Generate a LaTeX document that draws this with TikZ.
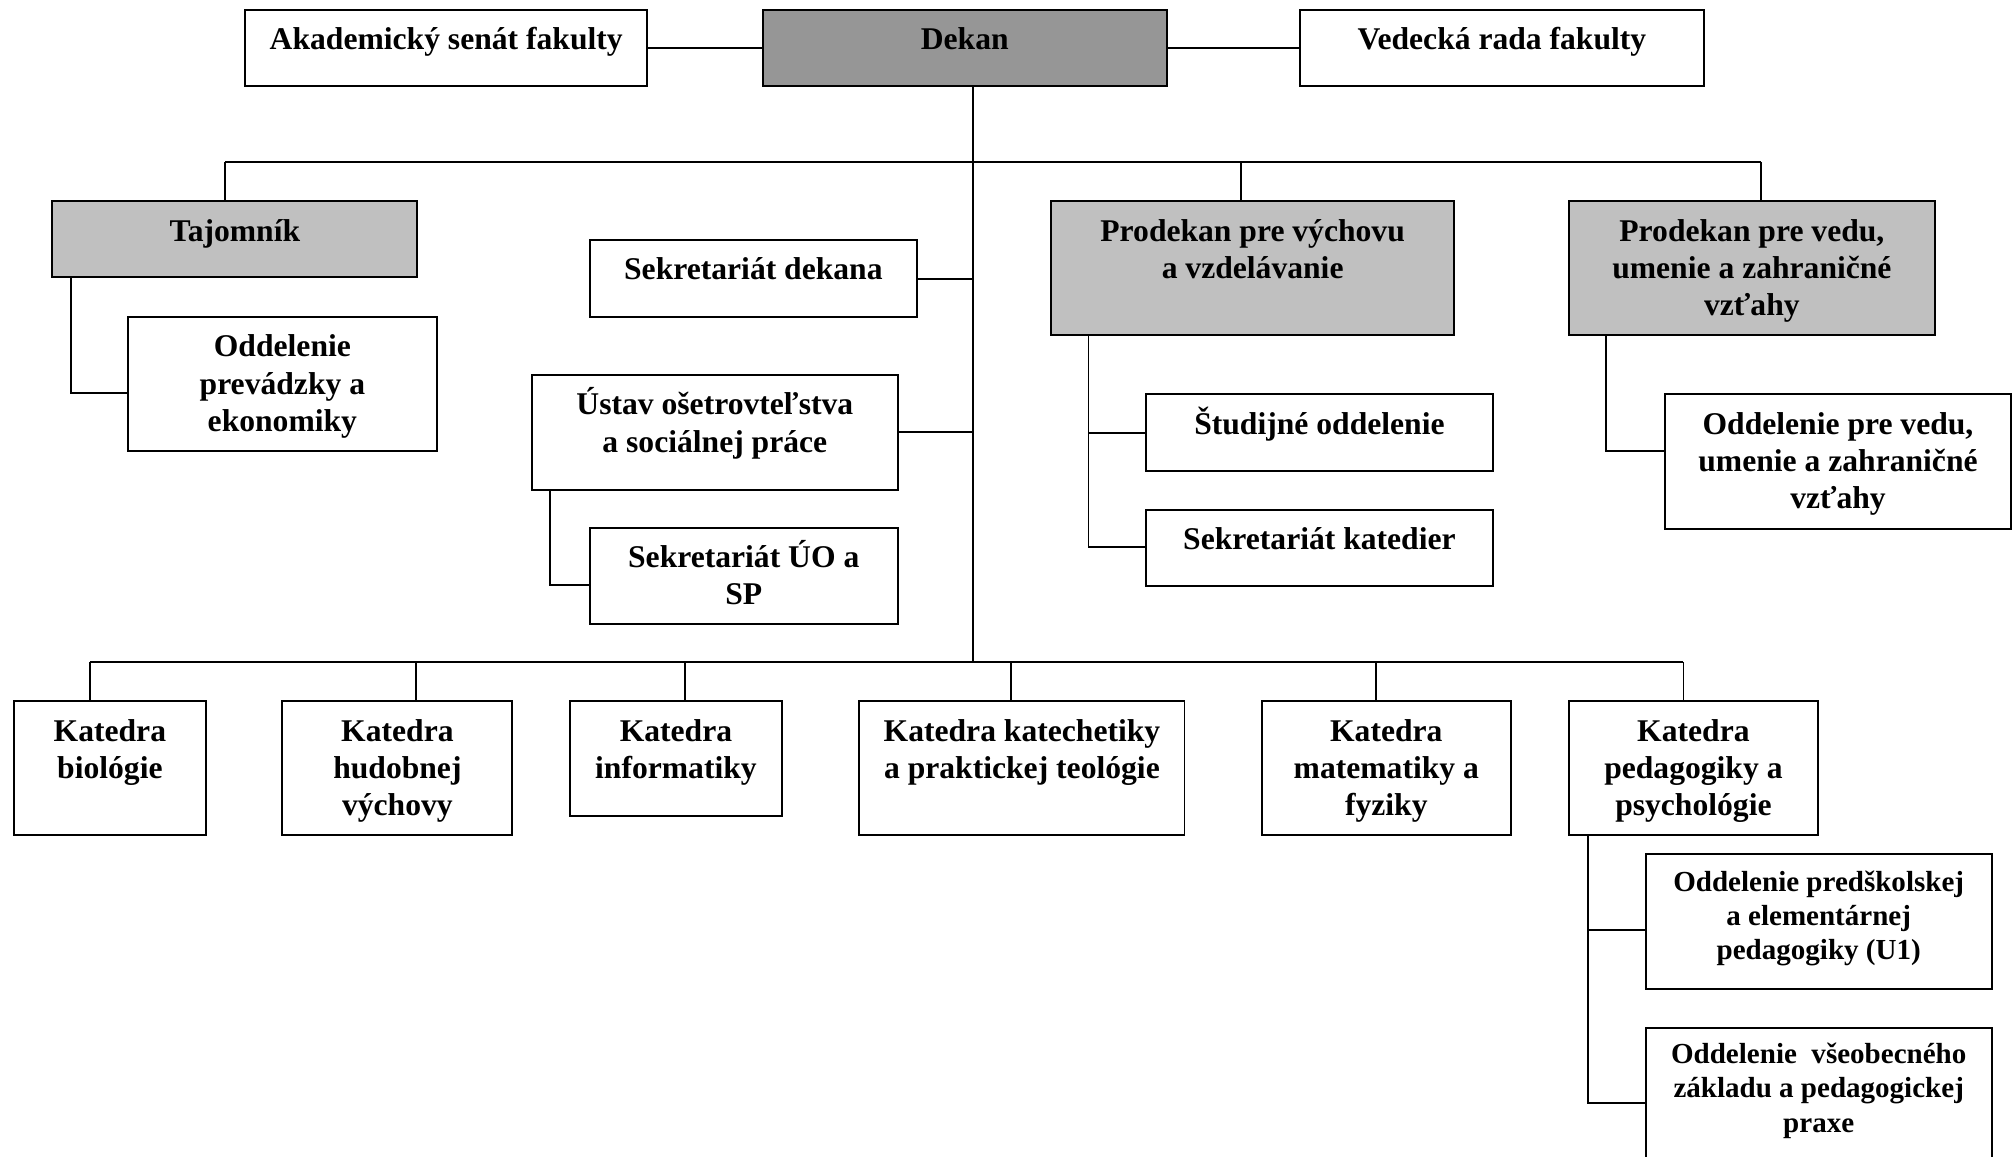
\documentclass[tikz,border=0pt]{standalone}
\usepackage{fontspec}
\setmainfont{Liberation Serif}
\definecolor{dekangray}{HTML}{969696}
\definecolor{prodgray}{HTML}{C0C0C0}
\tikzset{
  orgbox/.style={draw, line width=0.75pt, inner sep=0pt, anchor=north west, align=center,
    text height=15.5pt, font=\bfseries\fontsize{12.3}{14.5}\selectfont},
  twolines/.style={text height=30pt},
  threelines/.style={text height=44.5pt},
  smallbox/.style={font=\bfseries\fontsize{11.3}{13.3}\selectfont},
  link/.style={line width=0.75pt}
}
\begin{document}
\begin{tikzpicture}[x=0.5pt, y=-0.5pt]
  \useasboundingbox (0,0) rectangle (1568,900);
  % The top row
  \node[orgbox, minimum width=156.5pt, text depth=14pt] (senat) at (190,7) {Akademický senát fakulty};
  \node[orgbox, fill=dekangray, minimum width=157pt, text depth=14pt] (dekan) at (593,7) {Dekan};
  \node[orgbox, minimum width=157pt, text depth=14pt] (rada) at (1011,7) {Vedecká rada fakulty};
  \draw[link] (senat) -- (dekan);
  \draw[link] (dekan) -- (rada);
  \coordinate (trunk) at (757,515);
  \draw[link] (dekan.south -| trunk) -- (trunk);
  % The second row
  \node[orgbox, fill=prodgray, minimum width=142pt, text depth=14pt] (tajomnik) at (40,156) {Tajomník};
  \node[orgbox, threelines, minimum width=120pt, text depth=7.5pt] (prevadzka) at (99,246) {Oddelenie\\prevádzky a\\ekonomiky};
  \node[orgbox, minimum width=127.5pt, text depth=14.5pt] (sekdekan) at (458,186) {Sekretariát dekana};
  \node[orgbox, twolines, minimum width=142.5pt, text depth=14.75pt] (ustav) at (413,291) {Ústav ošetrovteľstva\\a sociálnej práce};
  \node[orgbox, twolines, minimum width=120pt, text depth=7.5pt] (sekuo) at (458,410) {Sekretariát ÚO a\\SP};
  \node[orgbox, twolines, fill=prodgray, minimum width=157pt, text depth=22pt] (prodvych) at (817,156) {Prodekan pre výchovu\\a vzdelávanie};
  \node[orgbox, minimum width=135pt, text depth=14.5pt] (studijne) at (891,306) {Študijné oddelenie};
  \node[orgbox, minimum width=135pt, text depth=14.25pt] (sekkat) at (891,396) {Sekretariát katedier};
  \node[orgbox, threelines, fill=prodgray, minimum width=142.5pt, text depth=7.5pt] (prodveda) at (1220,156) {Prodekan pre vedu,\\umenie a zahraničné\\vzťahy};
  \node[orgbox, threelines, minimum width=134.5pt, text depth=8pt] (oddveda) at (1295,306) {Oddelenie pre vedu,\\umenie a zahraničné\\vzťahy};
  % upper bus
  \coordinate (bT) at (175,126);
  \coordinate (bV) at (966,126);
  \coordinate (bR) at (1370,126);
  \draw[link] (bT) -- (bR);
  \draw[link] (bT) -- (bT |- tajomnik.north);
  \draw[link] (bV) -- (bV |- prodvych.north);
  \draw[link] (bR) -- (bR |- prodveda.north);
  % side branches
  \coordinate (sT) at (55,306);
  \draw[link] (sT |- tajomnik.south) -- (sT) -- (sT -| prevadzka.west);
  \draw[link] (sekdekan.east) -- (sekdekan.east -| trunk);
  \draw[link] (ustav.east) -- (ustav.east -| trunk);
  \coordinate (sU) at (428,455);
  \draw[link] (sU |- ustav.south) -- (sU) -- (sU -| sekuo.west);
  \coordinate (sV) at (847,425.5);
  \draw[link] (sV |- prodvych.south) -- (sV) -- (sV -| sekkat.west);
  \draw[link] (studijne.west) -- (studijne.west -| sV);
  \coordinate (sR) at (1250,351);
  \draw[link] (sR |- prodveda.south) -- (sR) -- (sR -| oddveda.west);
  % The departments
  \node[orgbox, twolines, minimum width=74.75pt, text depth=22pt] (katbio) at (10,545) {Katedra\\biológie};
  \node[orgbox, threelines, minimum width=89.5pt, text depth=7.5pt] (kathud) at (219,545) {Katedra\\hudobnej\\výchovy};
  \node[orgbox, twolines, minimum width=82.25pt, text depth=14.5pt] (katinf) at (443,545) {Katedra\\informatiky};
  \node[orgbox, twolines, minimum width=126.5pt, text depth=22pt] (katkat) at (668,545) {Katedra katechetiky\\a praktickej teológie};
  \node[orgbox, threelines, minimum width=97pt, text depth=7.5pt] (katmat) at (981,545) {Katedra\\matematiky a\\fyziky};
  \node[orgbox, threelines, minimum width=97pt, text depth=7.5pt] (katped) at (1220,545) {Katedra\\pedagogiky a\\psychológie};
  \node[orgbox, smallbox, minimum width=134.5pt, text height=41.1pt, text depth=11.4pt] (oddpred) at (1280,664) {Oddelenie predškolskej\\a elementárnej\\pedagogiky (U1)};
  \node[orgbox, smallbox, minimum width=134.5pt, text height=40.6pt, text depth=29.4pt] (oddvseob) at (1280,799) {Oddelenie\ \ všeobecného\\základu a pedagogickej\\praxe};
  % lower bus
  \foreach \n/\x in {katbio/70, kathud/324, katinf/533, katkat/787, katmat/1071, katped/1310}
  {
    \coordinate (j\n) at (\x,515);
    \draw[link] (j\n) -- (j\n |- \n.north);
  }
  \draw[link] (jkatbio) -- (jkatped);
  \coordinate (sQ) at (1236,724);
  \coordinate (sP) at (1236,858);
  \draw[link] (sP |- katped.south) -- (sP) -- (sP -| oddvseob.west);
  \draw[link] (sQ) -- (sQ -| oddpred.west);
\end{tikzpicture}
\end{document}
